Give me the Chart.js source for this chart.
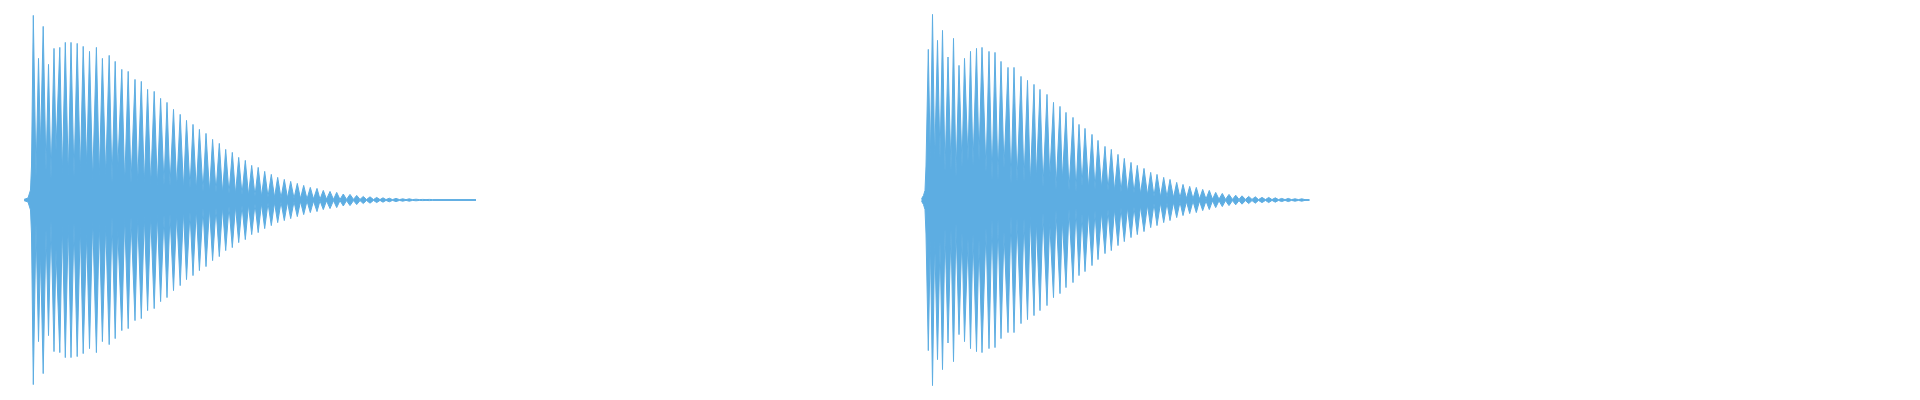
<!DOCTYPE html>
<html lang="en">
<head>
  <meta charset="UTF-8">
  <title>Waveform</title>
  <script src="https://cdn.jsdelivr.net/npm/chart.js"></script>
  <style>
    html, body { margin: 0; padding: 0; background: #fff; }
    .wrap { position: relative; width: 1920px; height: 400px; }
  </style>
</head>
<body>

<div class="wrap">
  <canvas id="wave"></canvas>
</div>

<script>
  // time axis in ms, amplitude in % of full scale (waveform is symmetric round 0)
  const b1OnsetX = [24, 28, 30.5, 31.5];
  const b1OnsetAmp = [0.3, 1, 5, 17];
  const b1PeakX = [33.3, 38.5, 43.2, 48.5, 54, 59.8, 65.3, 71, 77.2, 83.2, 89.5, 96.4, 102.4, 109.2, 115.2,
    121.8, 128.2, 135, 141.3, 147.6, 154.2, 160.6, 167, 173.5, 180.2, 186.5, 193, 199.4, 206, 212.6, 219.3,
    225.7, 232.3, 238.7, 245.3, 251.7, 258.2, 264.7, 271.3, 277.7, 284.3, 290.7, 297.3, 303.7, 310.3, 317,
    323.3, 330, 336.7, 343.3, 350, 356.7, 363.3, 370, 376.7, 383, 389.3, 396, 402.7, 409.3, 416, 422.7, 429.3, 436];
  const b1PeakAmp = [92.3, 70.8, 86.8, 67.8, 75.8, 76.3, 78.8, 78.8, 78.3, 76.8, 74.3, 76.3, 70.8, 72.3, 69.3,
    65.3, 64.3, 60.3, 59.3, 55.3, 54.3, 50.8, 48.8, 45.3, 42.8, 39.8, 37.8, 35.3, 33.3, 30.3, 28.3,
    25.3, 23.8, 21.3, 19.8, 17.3, 16.3, 14.3, 12.8, 11.3, 10.3, 9.3, 8.3, 7.3, 6.3, 5.8,
    4.8, 4.3, 3.8, 3, 2.8, 2.3, 1.8, 1.6, 1.3, 1.1, 0.9, 0.8, 0.6, 0.6, 0.4, 0.3, 0.3, 0.2];
  const b1ValleyX = [36, 40.5, 46, 51, 56, 62.3, 68.3, 74, 80.3, 86.7, 92.7, 99.3, 105.7, 112, 117.7, 124.7,
    131, 137.7, 144.3, 150.7, 157.3, 164, 170, 176.7, 183.5, 190, 196.3, 203, 209.5, 216, 222.5, 229,
    235.5, 242, 248.5, 255, 261.5, 268, 274.5, 281, 287.5, 294, 300.5, 307, 313.5, 320, 326.5, 333.5,
    340, 346.5, 353.5, 360, 366.5, 373.5, 380, 386, 392.5, 399.5, 406, 412.5, 419.5, 426, 432.5, 440, 476];
  const b1ValleyAmp = [12, 26.5, 14.8, 10.5, 24.8, 12.3, 11.5, 11.5, 13, 16.5, 9.8, 11.5, 12.3, 8.5, 14.5, 8,
    8.5, 8, 8, 7.5, 7, 7.5, 7, 6.5, 5.5, 6, 4.8, 4.3, 4, 4, 3.5, 3.3,
    3, 2.8, 2.3, 2, 1.8, 1.5, 1.3, 1, 1, 0.8, 0.7, 0.5, 0.5, 0.4, 0.4, 0.3,
    0.3, 0.3, 0.3, 0.3, 0.2, 0.2, 0.2, 0.2, 0.2, 0.2, 0.2, 0.2, 0.2, 0.2, 0.2, 0.2, 0.2];

  const b2OnsetX = [921.5, 922, 923.5, 925, 926];
  const b2OnsetAmp = [0.3, 1, 2.3, 4.8, 17];
  const b2PeakX = [928.3, 932.5, 937.5, 942.5, 948, 953.5, 959, 964.5, 970.5, 976.5, 982, 989, 995, 1001,
    1008, 1014, 1021, 1027.5, 1034, 1040, 1047, 1053.5, 1060, 1066, 1073, 1079, 1085, 1092, 1098, 1105,
    1111.3, 1118, 1124.3, 1131, 1137.3, 1144, 1150.7, 1157, 1163.7, 1170, 1176.7, 1183, 1189.7, 1196.3,
    1202.7, 1209.3, 1215.7, 1222.3, 1229, 1235.7, 1242, 1248.7, 1255.3, 1262, 1268.7, 1275.3, 1281.7,
    1288.3, 1295, 1301.7];
  const b2PeakAmp = [75.3, 92.8, 79.8, 84.8, 71.5, 80.8, 67.3, 70.8, 74.3, 75.8, 76.3, 74.3, 73.8, 69.3,
    66.3, 66.3, 61.8, 59.8, 57.8, 55.3, 52.8, 48.8, 46.8, 43.8, 41.3, 37.8, 35.8, 32.8, 29.8, 26.8,
    25.3, 22.8, 20.8, 18.8, 17.3, 15.8, 13.8, 12.8, 11.3, 10.3, 8.8, 7.8, 6.8, 6.3,
    5.3, 4.8, 3.8, 3.3, 2.8, 2.4, 2.1, 1.8, 1.6, 1.3, 1.3, 1.1, 0.8,
    0.8, 0.6, 0.6];
  const b2ValleyX = [930.3, 934.7, 940, 945, 951, 956, 962, 968, 973, 979, 986, 992, 998, 1004, 1011, 1017,
    1024, 1030.3, 1036.3, 1043, 1049.7, 1056, 1062.3, 1069, 1076, 1082, 1088.5, 1095, 1101.5, 1108,
    1114.5, 1121, 1127.5, 1134, 1140.5, 1147.5, 1154, 1160.5, 1167, 1173.5, 1180, 1186.5, 1193, 1199.5,
    1206, 1212.5, 1219, 1225.5, 1232.5, 1239, 1245.5, 1252, 1258.5, 1265.5, 1272, 1278.5, 1285, 1291.5,
    1298.5, 1305, 1309.5];
  const b2ValleyAmp = [19.8, 19.8, 20.8, 14.3, 15, 11.5, 16.5, 19.3, 17.3, 19.8, 14, 9.8, 9.8, 16, 8, 9.3,
    9.3, 8, 10.5, 6.5, 10.8, 5.3, 9.8, 4.8, 4, 7, 6, 5.5, 6, 4.8,
    4.5, 4, 3.8, 3.5, 3, 2.5, 1.8, 1.5, 1.5, 1.2, 1, 0.8, 0.6, 0.5,
    0.5, 0.4, 0.4, 0.3, 0.3, 0.3, 0.3, 0.3, 0.2, 0.2, 0.2, 0.2, 0.2, 0.2,
    0.2, 0.2, 0.2];

  const waveColor = '#5dade2';

  // merge onset, peaks and valleys into one outline sorted by time
  function outline(parts, sign) {
    const pts = [];
    parts.forEach(([xs, ys]) => xs.forEach((x, i) => pts.push({ x: x, y: sign * ys[i] })));
    return pts.sort((a, b) => a.x - b.x);
  }

  function side(data) {
    return {
      data,
      borderColor: waveColor,
      backgroundColor: waveColor,
      borderWidth: 1,
      pointRadius: 0,
      tension: 0,
      fill: 'origin'
    };
  }

  const b1 = [[b1OnsetX, b1OnsetAmp], [b1PeakX, b1PeakAmp], [b1ValleyX, b1ValleyAmp]];
  const b2 = [[b2OnsetX, b2OnsetAmp], [b2PeakX, b2PeakAmp], [b2ValleyX, b2ValleyAmp]];

  new Chart(document.getElementById('wave'), {
    type: 'line',
    data: {
      datasets: [
        side(outline(b1, 1)), side(outline(b1, -1)),
        side(outline(b2, 1)), side(outline(b2, -1))
      ]
    },
    options: {
      responsive: true,
      maintainAspectRatio: false,
      animation: false,
      layout: { padding: 0 },
      plugins: { legend: { display: false }, tooltip: { enabled: false } },
      scales: {
        x: { type: 'linear', min: 0, max: 1920, display: false },
        y: { min: -100, max: 100, display: false }
      }
    }
  });
</script>

</body>
</html>
